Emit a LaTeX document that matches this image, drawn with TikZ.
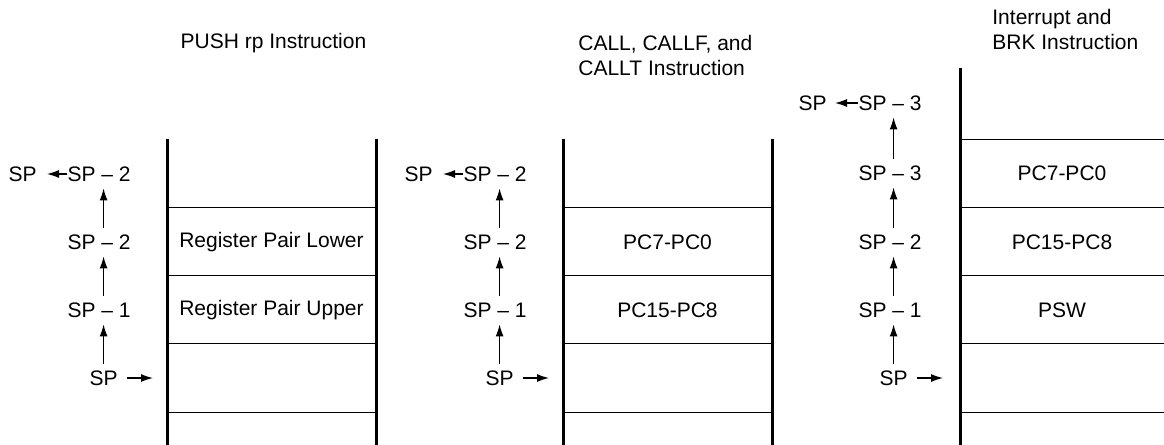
\documentclass[tikz,border=0pt]{standalone}
\usepackage{fontspec}
\setmainfont{Liberation Sans}
\usetikzlibrary{positioning,arrows.meta}
\tikzset{arr/.style={line width=0.6pt, -{Latex[length=6pt, width=4pt]}}}

\begin{document}
\begin{tikzpicture}[x=0.5pt, y=-0.5pt,
    every node/.style={font=\fontsize{10.5}{12.5}\selectfont},
    lbl/.style={inner xsep=0pt, inner ysep=3.3pt, anchor=east},
    cell/.style={inner sep=0pt},
    title/.style={align=left, inner sep=0pt},
    wall/.style={line width=1.5pt},
    row/.style={line width=0.5pt}]
            \useasboundingbox (0,0) rectangle (1164,445);

            % titles
            \node[title] (t1) at (273.5, 43) {PUSH rp Instruction};
            \node[title, anchor=west] (t2) at (578, 55.5) {CALL, CALLF, and\\CALLT Instruction};
            \node[title, anchor=west] (t3) at (992, 29.5) {Interrupt and\\BRK Instruction};

            % PUSH rp
            \draw[wall] (167, 139) -- (167, 445);
            \draw[wall] (376, 139) -- (376, 445);
            \foreach \y in {207, 275, 343, 412}
                \draw[row] (167, \y) -- (376, \y);
            \node[cell] (rlow) at (271.5, 242) {Register Pair Lower};
            \node[cell] (rup) at (271.5, 310) {Register Pair Upper};

            \node[lbl] (anew) at (37, 174) {SP};
            \node[lbl] (atop) at (131, 174) {SP -- 2};
            \node[lbl] (atwo) at (131, 242) {SP -- 2};
            \node[lbl] (aone) at (131, 310) {SP -- 1};
            \node[lbl] (asp) at (118, 378) {SP};
            \coordinate (ain) at (153, 378);
            \draw[arr, shorten >=5pt] (atop.west) -- (anew.east);
            \draw[arr] (asp.north) -- (asp |- aone.south);
            \draw[arr] (asp |- aone.north) -- (asp |- atwo.south);
            \draw[arr] (asp |- atwo.north) -- (asp |- atop.south);
            \draw[arr, shorten <=4.5pt] (asp.east) -- (ain);

            % CALL, CALLF, CALLT
            \draw[wall] (563, 139) -- (563, 445);
            \draw[wall] (772, 139) -- (772, 445);
            \foreach \y in {207, 275, 343, 412}
                \draw[row] (563, \y) -- (772, \y);
            \node[cell] (clow) at (667.5, 242) {PC7-PC0};
            \node[cell] (cup) at (667.5, 310) {PC15-PC8};

            \node[lbl] (bnew) at (433, 174) {SP};
            \node[lbl] (btop) at (527, 174) {SP -- 2};
            \node[lbl] (btwo) at (527, 242) {SP -- 2};
            \node[lbl] (bone) at (527, 310) {SP -- 1};
            \node[lbl] (bsp) at (514, 378) {SP};
            \coordinate (bin) at (549, 378);
            \draw[arr, shorten >=5pt] (btop.west) -- (bnew.east);
            \draw[arr] (bsp.north) -- (bsp |- bone.south);
            \draw[arr] (bsp |- bone.north) -- (bsp |- btwo.south);
            \draw[arr] (bsp |- btwo.north) -- (bsp |- btop.south);
            \draw[arr, shorten <=4.5pt] (bsp.east) -- (bin);

            % interrupt, BRK
            \draw[wall] (960, 68) -- (960, 445);
            \foreach \y in {139, 207, 275, 343, 412}
                \draw[row] (960, \y) -- (1164, \y);
            \node[cell] (ilow) at (1062, 173) {PC7-PC0};
            \node[cell] (iup) at (1062, 242) {PC15-PC8};
            \node[cell] (ipsw) at (1062, 310) {PSW};

            \node[lbl] (cnew) at (827, 103) {SP};
            \node[lbl] (ctop) at (922, 103) {SP -- 3};
            \node[lbl] (cthree) at (922, 173) {SP -- 3};
            \node[lbl] (ctwo) at (922, 242) {SP -- 2};
            \node[lbl] (cone) at (922, 310) {SP -- 1};
            \node[lbl] (csp) at (908, 378) {SP};
            \coordinate (cin) at (943, 378);
            \draw[arr, shorten >=4pt] (ctop.west) -- (cnew.east);
            \draw[arr] (csp.north) -- (csp |- cone.south);
            \draw[arr] (csp |- cone.north) -- (csp |- ctwo.south);
            \draw[arr] (csp |- ctwo.north) -- (csp |- cthree.south);
            \draw[arr] (csp |- cthree.north) -- (csp |- ctop.south);
            \draw[arr, shorten <=4.5pt] (csp.east) -- (cin);
        \end{tikzpicture}
\end{document}
